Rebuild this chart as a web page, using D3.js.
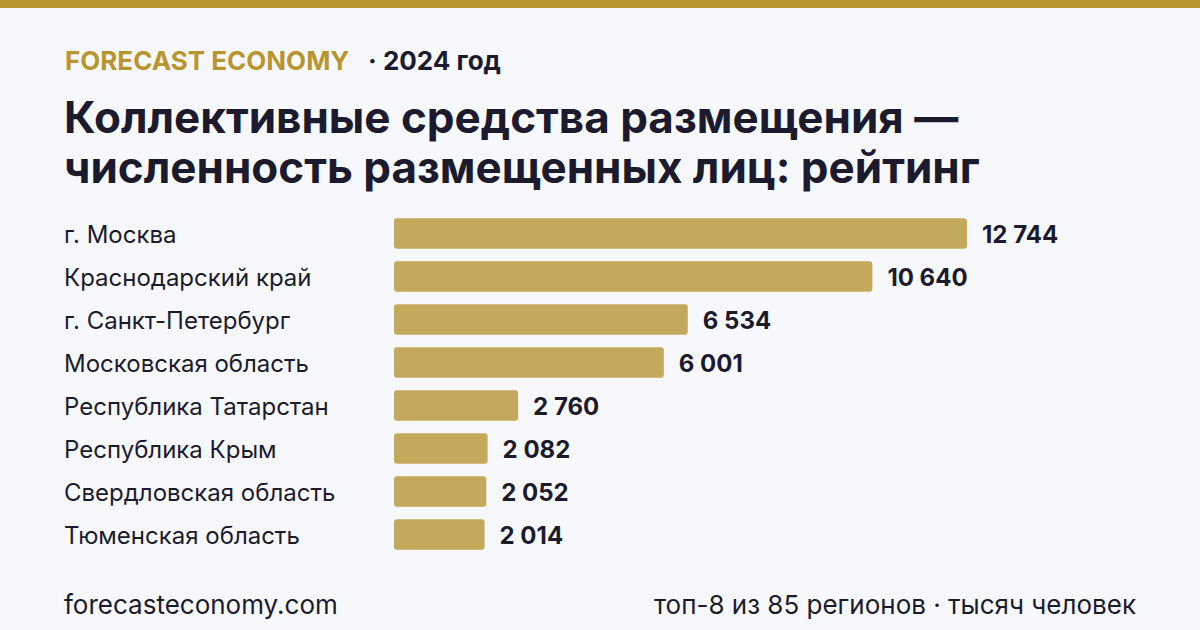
<!DOCTYPE html>
<html>
<head>
<meta charset="utf-8">
<script src="https://cdn.jsdelivr.net/npm/d3@7"></script>
<style>
  html, body { margin: 0; padding: 0; background: #f7f8fc; }
  svg { display: block; font-family: Inter, "Noto Sans", sans-serif; }
</style>
</head>
<body>
<svg id="chart" width="1200" height="630"></svg>
<script>
// data
const regions = [
    "г. Москва",
    "Краснодарский край",
    "г. Санкт-Петербург",
    "Московская область",
    "Республика Татарстан",
    "Республика Крым",
    "Свердловская область",
    "Тюменская область"
];
const values = [12744, 10640, 6534, 6001, 2760, 2082, 2052, 2014];

const brand = "FORECAST ECONOMY";
const period = "· 2024 год";
const titleLines = ["Коллективные средства размещения —", "численность размещенных лиц: рейтинг"];
const sourceText = "forecasteconomy.com";
const noteText = "топ-8 из 85 регионов · тысяч человек";

const width = 1200, height = 630;
const gold = "#b8952e";
const barColor = "#c4a85c";
const ink = "#1c1b2e";

let svg = d3.select("#chart");

svg.append("rect").attr("width", width).attr("height", height).attr("fill", "#f7f8fc");
svg.append("rect").attr("width", width).attr("height", 8).attr("fill", gold);

// header
let head = svg.append("text")
    .attr("x", 65)
    .attr("y", 70)
    .attr("font-size", 26)
    .attr("font-weight", 700);
head.append("tspan").attr("fill", gold).text(brand);
head.append("tspan").attr("fill", ink).attr("dx", 20).text(period);

svg.selectAll(".title")
    .data(titleLines)
    .enter()
    .append("text")
    .attr("class", "title")
    .attr("x", 64)
    .attr("y", (d, i) => 133 + i * 50)
    .attr("font-size", 44)
    .attr("font-weight", 700)
    .attr("fill", ink)
    .text(d => d);

// scales
let x = d3.scaleLinear()
    .domain([0, d3.max(values)])
    .range([394, 967]);

let y = d3.scaleBand()
    .domain(regions)
    .range([212, 212 + regions.length * 43])
    .paddingInner(0.29)
    .paddingOuter(0.145);

let fmt = d3.formatLocale({ decimal: ",", thousands: " ", grouping: [3], currency: ["", ""] }).format(",d");

let rows = svg.selectAll(".row")
    .data(regions.map((r, i) => ({ region: r, value: values[i] })))
    .enter()
    .append("g")
    .attr("class", "row");

rows.append("rect")
    .attr("x", x(0))
    .attr("y", d => y(d.region))
    .attr("width", d => x(d.value) - x(0))
    .attr("height", y.bandwidth())
    .attr("rx", 3)
    .attr("fill", barColor);

rows.append("text")
    .attr("x", 64)
    .attr("y", d => y(d.region) + y.bandwidth() / 2)
    .attr("dy", "0.38em")
    .attr("font-size", 24)
    .attr("fill", ink)
    .text(d => d.region);

rows.append("text")
    .attr("x", d => x(d.value) + 15)
    .attr("y", d => y(d.region) + y.bandwidth() / 2)
    .attr("dy", "0.38em")
    .attr("font-size", 24)
    .attr("font-weight", 700)
    .attr("fill", ink)
    .text(d => fmt(d.value));

// footer
svg.append("text")
    .attr("x", 64)
    .attr("y", 614)
    .attr("font-size", 26)
    .attr("fill", ink)
    .text(sourceText);

svg.append("text")
    .attr("x", 1136)
    .attr("y", 614)
    .attr("text-anchor", "end")
    .attr("font-size", 26)
    .attr("fill", ink)
    .text(noteText);
</script>
</body>
</html>
